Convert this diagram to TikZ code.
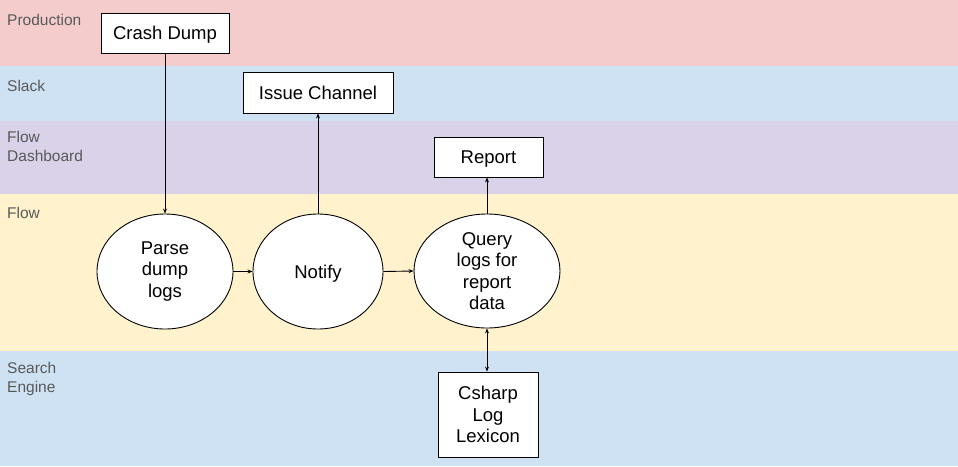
\documentclass[tikz,border=0pt]{standalone}
\usepackage{fontspec}
\setmainfont{Liberation Sans}
\usetikzlibrary{arrows.meta,shapes.geometric}
\definecolor{lanepink}{HTML}{F4CCCC}
\definecolor{laneblue}{HTML}{CFE2F3}
\definecolor{lanepurple}{HTML}{D9D2E9}
\definecolor{laneyellow}{HTML}{FFF2CC}
\definecolor{lanetext}{HTML}{595959}
\tikzset{
  lanelabel/.style={anchor=base west, text=lanetext, inner sep=0pt, align=left,
    font=\fontsize{15.5}{19}\selectfont},
  boxnode/.style={draw=black, line width=0.9pt, fill=white, inner sep=0pt, align=center,
    font=\fontsize{18.5}{21.5}\selectfont},
  oneline/.style={text height=16pt, text depth=3pt},
  ellnode/.style={ellipse, draw=black, line width=0.9pt, fill=white, inner sep=0pt, align=center,
    font=\fontsize{18.5}{21.5}\selectfont},
  conn/.style={line width=0.9pt, -{Stealth[length=5pt,width=4pt]}},
  dconn/.style={line width=0.9pt, {Stealth[length=5pt,width=4pt]}-{Stealth[length=5pt,width=4pt]}}
}
\begin{document}
\begin{tikzpicture}[x=1pt,y=-1pt]
\useasboundingbox (0,0) rectangle (958,466);
\fill[lanepink] (0,0) rectangle (958,65.5);
\fill[laneblue] (0,65.5) rectangle (958,120.5);
\fill[lanepurple] (0,120.5) rectangle (958,193.5);
\fill[laneyellow] (0,193.5) rectangle (958,350.5);
\fill[laneblue] (0,350.5) rectangle (958,466);

\node[lanelabel] (lprod) at (7,25) {Production};
\node[lanelabel] (lslack) at (7,91) {Slack};
\node[lanelabel, anchor=north west] (ldash) at (7,131) {Flow\\Dashboard};
\node[lanelabel] (lflow) at (7,218) {Flow};
\node[lanelabel, anchor=north west] (lsearch) at (7,362) {Search\\Engine};

\node[boxnode, oneline, minimum width=128pt, minimum height=40pt] (crash) at (165,33) {Crash Dump};
\node[boxnode, oneline, minimum width=150pt, minimum height=41pt] (issue) at (318,92.5) {Issue Channel};
\node[boxnode, oneline, minimum width=109pt, minimum height=40pt] (report) at (488.5,157) {Report};
\node[boxnode, minimum width=100pt, minimum height=85pt] (csharp) at (488,414.5) {Csharp\\Log\\Lexicon};

\node[ellnode, minimum width=136pt, minimum height=115pt] (parse) at (165,271.5) {Parse\\dump\\logs};
\node[ellnode, oneline, minimum width=130pt, minimum height=115pt] (notify) at (318,271.5) {Notify};
\node[ellnode, minimum width=146pt, minimum height=114pt] (query) at (487,271) {Query\\logs for\\report\\data};

\draw[conn] (crash.south) -- (parse.north);
\draw[conn] (notify.north) -- (issue.south);
\draw[conn] (query.north) -- (query.north |- report.south);
\draw[conn] (parse.east) -- (notify.west);
\draw[conn] (notify.east) -- (query.west);
\draw[dconn] (query.south) -- (query.south |- csharp.north);
\end{tikzpicture}
\end{document}
